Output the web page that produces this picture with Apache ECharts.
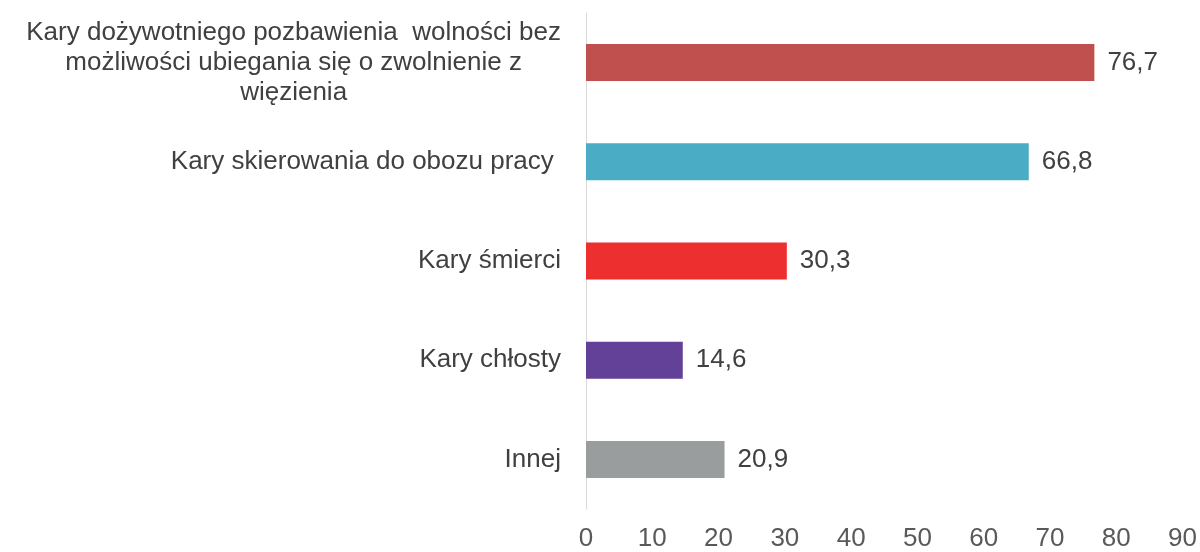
<!DOCTYPE html>
<html>
<head>
<meta charset="utf-8">
<script src="https://cdn.jsdelivr.net/npm/echarts@6/dist/echarts.min.js"></script>
<style>
  html, body { margin: 0; padding: 0; background: #fff; }
  #chart { width: 1200px; height: 552px; }
</style>
</head>
<body>
<div id="chart"></div>
<script>
var categories = [
  "Kary dożywotniego pozbawienia  wolności bez\nmożliwości ubiegania się o zwolnienie z\nwięzienia",
  "Kary skierowania do obozu pracy ",
  "Kary śmierci",
  "Kary chłosty",
  "Innej"
];
var values = [76.7, 66.8, 30.3, 14.6, 20.9];
var barColors = ["#C0504D", "#4BACC6", "#EE2F2F", "#634199", "#9A9D9D"];
var xTicks = [0, 10, 20, 30, 40, 50, 60, 70, 80, 90];

var chart = echarts.init(document.getElementById("chart"));
chart.setOption({
  animation: false,
  textStyle: { fontFamily: "Liberation Sans, Arial, sans-serif" },
  grid: { left: 586, right: 17, top: 13, bottom: 42, containLabel: false },
  xAxis: {
    type: "value",
    min: xTicks[0],
    max: xTicks[xTicks.length - 1],
    interval: 10,
    axisLine: { show: false },
    axisTick: { show: false },
    splitLine: { show: false },
    axisLabel: { color: "#595959", fontSize: 26, margin: 17 }
  },
  yAxis: {
    type: "category",
    inverse: true,
    data: categories,
    axisLine: { show: true, lineStyle: { color: "#D9D9D9", width: 1 } },
    axisTick: { show: false },
    axisLabel: {
      color: "#404040",
      fontSize: 26,
      margin: 25,
      lineHeight: 30,
      formatter: function (v) {
        return v.split("\n").map(function (s) { return "{c|" + s + "}"; }).join("\n");
      },
      rich: {
        c: { align: "center", fontSize: 26, lineHeight: 30, color: "#404040" }
      }
    }
  },
  series: [{
    type: "bar",
    barWidth: 37,
    data: values.map(function (v, i) {
      return { value: v, itemStyle: { color: barColors[i] } };
    }),
    label: {
      show: true,
      position: "right",
      distance: 13,
      color: "#404040",
      fontSize: 26,
      formatter: function (p) { return String(p.value).replace(".", ","); }
    }
  }]
});
</script>
</body>
</html>
